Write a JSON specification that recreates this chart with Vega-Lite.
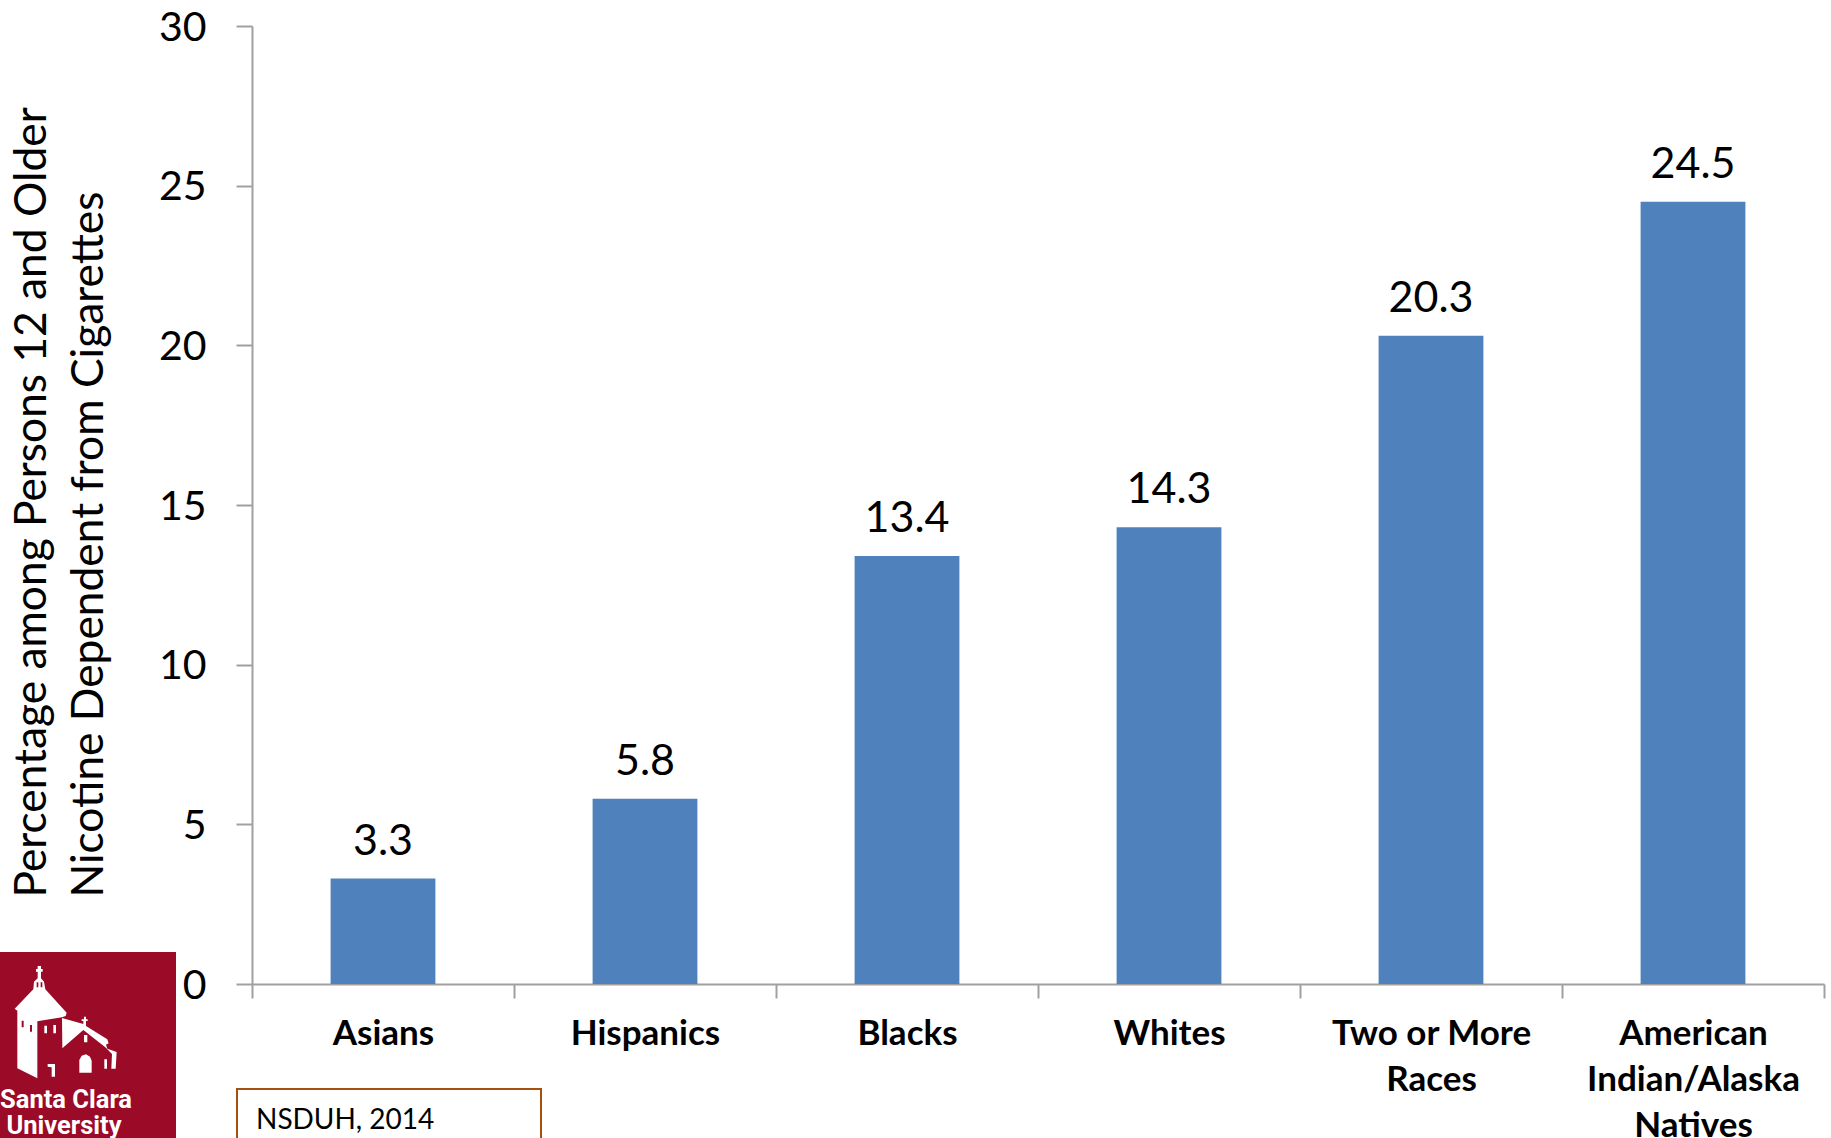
{
  "$schema": "https://vega.github.io/schema/vega-lite/v6.json",
  "width": 1572,
  "height": 958,
  "padding": {"left": 252, "top": 26, "right": 7, "bottom": 154},
  "autosize": {"type": "none"},
  "background": "white",
  "config": {"view": {"stroke": null}, "font": "Lato"},
  "layer": [
    {
      "data": {"values": [
        {"group": "Asians", "pct": 3.3},
        {"group": "Hispanics", "pct": 5.8},
        {"group": "Blacks", "pct": 13.4},
        {"group": "Whites", "pct": 14.3},
        {"group": "Two or More Races", "pct": 20.3},
        {"group": "American Indian/Alaska Natives", "pct": 24.5}
      ]},
      "layer": [
        {
          "mark": {"type": "bar", "color": "#4F81BD", "width": {"band": 0.4}},
          "encoding": {
            "x": {
              "field": "group", "type": "nominal", "sort": null,
              "scale": {"paddingInner": 0, "paddingOuter": 0},
              "axis": {
                "title": null, "labelAngle": 0, "labelFont": "Lato", "labelFontWeight": "bold",
                "labelFontSize": 35, "labelColor": "#000000", "labelPadding": 18, "labelLineHeight": 46,
                "labelLimit": 400, "labelBaseline": "top",
                "labelExpr": "datum.label == 'Two or More Races' ? ['Two or More', 'Races'] : datum.label == 'American Indian/Alaska Natives' ? ['American', 'Indian/Alaska', 'Natives'] : datum.label",
                "tickBand": "extent", "tickSize": 14, "tickWidth": 2, "tickColor": "#A0A0A0",
                "domainColor": "#A0A0A0", "domainWidth": 2, "grid": false
              }
            },
            "y": {
              "field": "pct", "type": "quantitative",
              "scale": {"domain": [0, 30]},
              "axis": {
                "values": [0, 5, 10, 15, 20, 25, 30],
                "title": ["Percentage among Persons 12 and Older", "Nicotine Dependent from Cigarettes"],
                "titleFont": "Lato", "titleFontWeight": "normal", "titleFontSize": 44.3, "titleColor": "#000000",
                "titleAngle": -90, "titleAlign": "left", "titleBaseline": "alphabetic", "titleAnchor": "start",
                "titleX": -207, "titleY": 871, "titleLineHeight": 57,
                "labelFont": "Lato", "labelFontSize": 41, "labelColor": "#000000", "labelPadding": 30, "labelOffset": 2,
                "tickSize": 16, "tickWidth": 2, "tickColor": "#A0A0A0",
                "domainColor": "#A0A0A0", "domainWidth": 2, "grid": false
              }
            }
          }
        },
        {
          "mark": {"type": "text", "baseline": "bottom", "dy": -15, "fontSize": 43, "font": "Lato", "color": "#000000"},
          "encoding": {
            "x": {"field": "group", "type": "nominal", "sort": null},
            "y": {"field": "pct", "type": "quantitative"},
            "text": {"field": "pct", "type": "quantitative", "format": ".1f"}
          }
        }
      ]
    },
    {
      "data": {"values": [{"note": "NSDUH, 2014"}]},
      "layer": [
        {
          "mark": {"type": "rect", "fill": "white", "stroke": "#A5500F", "strokeWidth": 2, "clip": false},
          "encoding": {"x": {"value": -15}, "x2": {"value": 289}, "y": {"value": 1063}, "y2": {"value": 1140}}
        },
        {
          "mark": {"type": "text", "align": "left", "baseline": "middle", "fontSize": 28, "font": "Lato", "color": "#000000"},
          "encoding": {"x": {"value": 4}, "y": {"value": 1095}, "text": {"field": "note"}}
        }
      ]
    },
    {
      "data": {"values": [{"line1": "Santa Clara", "line2": "University"}]},
      "layer": [
        {
          "mark": {"type": "rect", "fill": "#9B0A27"},
          "encoding": {"x": {"value": -252}, "x2": {"value": -76}, "y": {"value": 926}, "y2": {"value": 1112}}
        },
        {
          "mark": {
            "type": "point", "filled": true, "opacity": 1, "fill": "white", "stroke": null, "size": 0.4444,
            "shape": "M113 48 L123 48 L123 57 L128 57 L128 65 L123 65 L123 85 L132 95 L136 118 L200 188 L197 198 L186 202 L112 214 L112 385 L52 355 L52 182 L44 176 L100 118 L102 95 L113 85 L113 65 L108 65 L108 57 L113 57 Z M186 204 L250 222 L250 213 L245 213 L245 208 L252 208 L252 200 L258 200 L258 208 L263 208 L263 213 L258 213 L258 228 L322 268 L326 280 L318 284 L322 296 L350 306 L347 356 L334 356 L336 312 L316 292 L250 240 L187 295 Z M133 227 L141 227 L141 250 L133 250 Z M160 225 L168 225 L168 250 L160 250 Z M143 342 L165 342 L165 380 L155 380 L155 352 L143 350 Z M238 368 L238 330 L245 317 L258 313 L270 320 L275 332 L275 368 Z M252 255 L262 255 L262 277 L252 277 Z M313 328 L321 328 L321 356 L313 356 Z"
          },
          "encoding": {"x": {"value": -252}, "y": {"value": 924}}
        },
        {
          "mark": {
            "type": "point", "filled": true, "opacity": 1, "fill": "#9B0A27", "stroke": null, "size": 0.4444,
            "shape": "M65 212 L71 212 L71 232 L65 232 Z M90 225 L96 225 L96 245 L90 245 Z M110 97 L115 97 L115 112 L110 112 Z M122 97 L127 97 L127 112 L122 112 Z"
          },
          "encoding": {"x": {"value": -252}, "y": {"value": 924}}
        },
        {
          "mark": {"type": "text", "align": "center", "baseline": "middle", "fontSize": 25.5, "fontWeight": "bold", "font": "Roboto", "color": "white"},
          "encoding": {"x": {"value": -186}, "y": {"value": 1074}, "text": {"field": "line1"}}
        },
        {
          "mark": {"type": "text", "align": "center", "baseline": "middle", "fontSize": 25.5, "fontWeight": "bold", "font": "Roboto", "color": "white"},
          "encoding": {"x": {"value": -188}, "y": {"value": 1100}, "text": {"field": "line2"}}
        }
      ]
    }
  ],
  "resolve": {"scale": {"x": "shared", "y": "shared"}}
}
